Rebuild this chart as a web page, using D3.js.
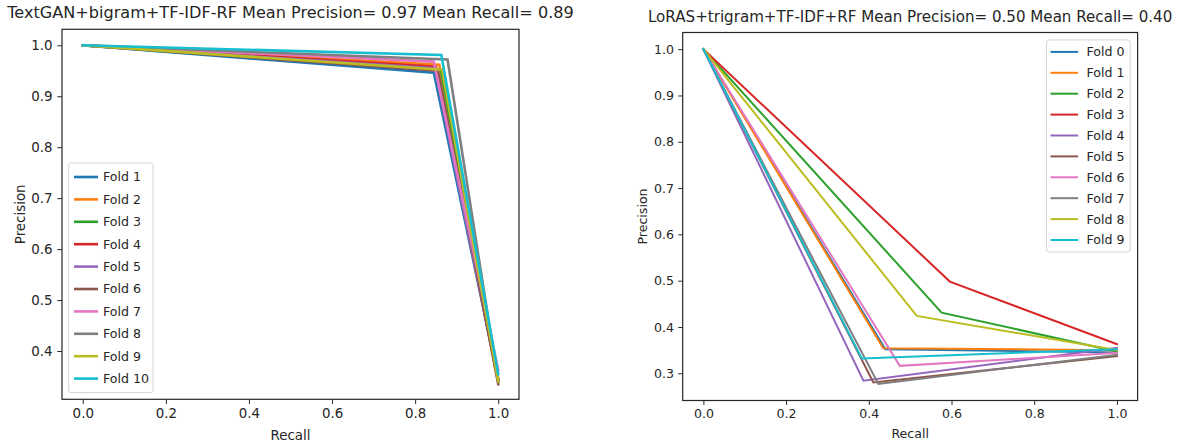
<!DOCTYPE html>
<html>
<head>
<meta charset="utf-8">
<script src="https://cdn.jsdelivr.net/npm/d3@7/dist/d3.min.js"></script>
<style>
  html, body { margin: 0; padding: 0; background: #fff; }
  svg { display: block; font-family: "DejaVu Sans", sans-serif; }
</style>
</head>
<body>
<svg id="chart" width="1181" height="448"></svg>
<script>
// Precision-recall curves per cross-validation fold.
// Each curve runs (recall 0, precision 1) -> knee -> (recall 1, end precision).
const palette = ["#1f77b4", "#ff7f0e", "#2ca02c", "#d62728", "#9467bd",
                 "#8c564b", "#e377c2", "#7f7f7f", "#bcbd22", "#17becf"];

// Left panel: TextGAN + bigram + TF-IDF + RF
const leftTitle = "TextGAN+bigram+TF-IDF-RF Mean Precision= 0.97 Mean Recall= 0.89";
const leftFolds = ["Fold 1", "Fold 2", "Fold 3", "Fold 4", "Fold 5",
                   "Fold 6", "Fold 7", "Fold 8", "Fold 9", "Fold 10"];
const leftKneeRecall    = [0.845, 0.858, 0.862, 0.850, 0.848, 0.855, 0.845, 0.878, 0.865, 0.863];
const leftKneePrecision = [0.946, 0.962, 0.952, 0.958, 0.955, 0.950, 0.968, 0.972, 0.952, 0.981];
const leftEndPrecision  = [0.345, 0.345, 0.340, 0.340, 0.340, 0.335, 0.362, 0.340, 0.340, 0.355];
const leftXTicks = [0.0, 0.2, 0.4, 0.6, 0.8, 1.0];
const leftYTicks = [0.4, 0.5, 0.6, 0.7, 0.8, 0.9, 1.0];

// Right panel: LoRAS + trigram + TF-IDF + RF
const rightTitle = "LoRAS+trigram+TF-IDF+RF Mean Precision= 0.50 Mean Recall= 0.40";
const rightFolds = ["Fold 0", "Fold 1", "Fold 2", "Fold 3", "Fold 4",
                    "Fold 5", "Fold 6", "Fold 7", "Fold 8", "Fold 9"];
const rightKneeRecall    = [0.440, 0.435, 0.576, 0.596, 0.387, 0.411, 0.475, 0.423, 0.516, 0.383];
const rightKneePrecision = [0.352, 0.354, 0.431, 0.498, 0.284, 0.280, 0.316, 0.277, 0.424, 0.332];
const rightEndPrecision  = [0.345, 0.350, 0.347, 0.363, 0.355, 0.337, 0.344, 0.340, 0.350, 0.352];
const rightXTicks = [0.0, 0.2, 0.4, 0.6, 0.8, 1.0];
const rightYTicks = [0.3, 0.4, 0.5, 0.6, 0.7, 0.8, 0.9, 1.0];

const svg = d3.select("#chart");
const ink = "#262626";

function curves(kneeR, kneeP, endP) {
  return kneeR.map((r, i) => [
    { r: 0, p: 1 },
    { r: r, p: kneeP[i] },
    { r: 1, p: endP[i] }
  ]);
}

function drawPanel(cfg) {
  const { box, s, title, folds, data, xTicks, yTicks, yDomain, legend, titleY, xLabelY, yLabelX, lineW } = cfg;
  const fs = 10 * s;         // tick / label font size (px)
  const tick = 3.5 * s;
  const x = d3.scaleLinear().domain([-0.05, 1.05]).range([box.x0, box.x1]);
  const y = d3.scaleLinear().domain(yDomain).range([box.y1, box.y0]);
  const g = svg.append("g");

  // curves
  const line = d3.line().x(d => x(d.r)).y(d => y(d.p));
  g.append("g").selectAll("path").data(data).join("path")
    .attr("d", line)
    .attr("fill", "none")
    .attr("stroke", (d, i) => palette[i])
    .attr("stroke-width", lineW)
    .attr("stroke-linejoin", "miter")
    .attr("stroke-linecap", "square");

  // axes
  const xAxis = d3.axisBottom(x).tickValues(xTicks).tickFormat(d3.format(".1f"))
    .tickSize(tick).tickPadding(3.5 * s);
  const yAxis = d3.axisLeft(y).tickValues(yTicks).tickFormat(d3.format(".1f"))
    .tickSize(tick).tickPadding(3.5 * s);
  const gx = g.append("g").attr("transform", `translate(0,${box.y1})`).call(xAxis);
  const gy = g.append("g").attr("transform", `translate(${box.x0},0)`).call(yAxis);
  [gx, gy].forEach(a => {
    a.select(".domain").remove();
    a.selectAll("line").attr("stroke", ink).attr("stroke-width", 1);
    a.selectAll("text").attr("fill", ink).style("font-size", fs + "px")
      .style("font-family", "DejaVu Sans");
  });

  // frame
  g.append("rect")
    .attr("x", box.x0).attr("y", box.y0)
    .attr("width", box.x1 - box.x0).attr("height", box.y1 - box.y0)
    .attr("fill", "none").attr("stroke", ink).attr("stroke-width", 1.2);

  // title and axis labels
  const cx = (box.x0 + box.x1) / 2;
  g.append("text").attr("x", cx).attr("y", titleY)
    .attr("text-anchor", "middle").attr("fill", ink)
    .style("font-size", (12 * s) + "px").text(title);
  g.append("text").attr("x", cx).attr("y", xLabelY)
    .attr("text-anchor", "middle").attr("fill", ink)
    .style("font-size", fs + "px").text("Recall");
  g.append("text")
    .attr("transform", `translate(${yLabelX},${(box.y0 + box.y1) / 2}) rotate(-90)`)
    .attr("text-anchor", "middle").attr("dy", "0.35em").attr("fill", ink)
    .style("font-size", fs + "px").text("Precision");

  // legend
  const { fs: lfs, pad, bl, br, bv, hl, htp, rowH } = legend;
  const lg = g.append("g");
  const frame = lg.append("rect");
  const items = lg.selectAll("g.item").data(folds).join("g").attr("class", "item");
  items.append("line")
    .attr("x1", 0).attr("x2", hl)
    .attr("stroke", (d, i) => palette[i]).attr("stroke-width", lineW);
  items.append("text")
    .attr("x", hl + htp).attr("dy", "0.35em").attr("fill", ink)
    .style("font-size", lfs + "px").text(d => d);
  let maxW = 0;
  items.selectAll("text").each(function () { maxW = Math.max(maxW, this.getComputedTextLength()); });
  const w = bl + hl + htp + maxW + br;
  const h = bv * 2 + rowH * (folds.length - 1);
  let lx, ly;
  if (legend.loc === "lower left") { lx = box.x0 + pad; ly = box.y1 - pad - h; }
  else { lx = box.x1 - pad - w; ly = box.y0 + pad; }
  frame.attr("x", lx).attr("y", ly).attr("width", w).attr("height", h)
    .attr("rx", 2.5).attr("fill", "rgba(255,255,255,0.8)")
    .attr("stroke", "#d4d4d4").attr("stroke-width", 1);
  items.attr("transform", (d, i) => `translate(${lx + bl},${ly + bv + i * rowH})`);
}

drawPanel({
  box: { x0: 62, x1: 519, y0: 29.3, y1: 399.3 },
  s: 16.1 / 12,
  title: leftTitle,
  folds: leftFolds,
  data: curves(leftKneeRecall, leftKneePrecision, leftEndPrecision),
  xTicks: leftXTicks, yTicks: leftYTicks,
  yDomain: [0.3052, 1.0314],
  legend: { loc: "lower left", fs: 12.6, pad: 6.7, bl: 5.3, br: 4, bv: 14, hl: 24, htp: 5, rowH: 22.4 },
  titleY: 18, xLabelY: 440, yLabelX: 20.7, lineW: 2.6
});

drawPanel({
  box: { x0: 682.7, x1: 1137.6, y0: 32.5, y1: 400.5 },
  s: 15.1 / 12,
  title: rightTitle,
  folds: rightFolds,
  data: curves(rightKneeRecall, rightKneePrecision, rightEndPrecision),
  xTicks: rightXTicks, yTicks: rightYTicks,
  yDomain: [0.2412, 1.036],
  legend: { loc: "upper right", fs: 12.6, pad: 7.4, bl: 4, br: 5.7, bv: 12, hl: 27.6, htp: 8.4, rowH: 20.9 },
  titleY: 21.5, xLabelY: 438, yLabelX: 642.3, lineW: 2
});
</script>
</body>
</html>
